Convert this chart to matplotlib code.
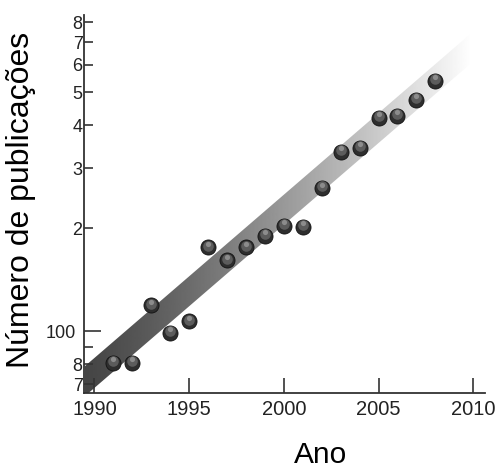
import numpy as np
import matplotlib
matplotlib.use("Agg")
import matplotlib.pyplot as plt
from matplotlib.transforms import offset_copy
from matplotlib.ticker import FixedLocator, FixedFormatter, NullLocator

plt.rcParams['font.family'] = ['Liberation Sans', 'DejaVu Sans']

# data
years = [1991, 1992, 1993, 1994, 1995, 1996, 1997, 1998, 1999,
         2000, 2001, 2002, 2003, 2004, 2005, 2006, 2007, 2008]
publications = [81, 81, 119, 99, 107, 176, 161, 176, 190,
                203, 202, 262, 335, 344, 420, 426, 474, 540]

# trend band (start/end of the grey strip)
trend_years = [1989.5, 2010.0]
trend_values = [71.5, 680]
band_factor = 1.106

x_ticks = [1990, 1995, 2000, 2005, 2010]
y_major = [100]
y_major_labels = ['100']
y_minor = [70, 80, 90, 200, 300, 400, 500, 600, 700, 800]
y_minor_labels = ['7', '8', '', '2', '3', '4', '5', '6', '7', '8']

fig = plt.figure(figsize=(4.97, 4.69), dpi=100)
ax = fig.add_axes([84 / 497, 76 / 469, 401 / 497, 378 / 469])

# band: polygon from the trend, filled by a grey gradient (dark -> white)
band = ax.fill_between(trend_years,
                       [v / band_factor for v in trend_values],
                       [v * band_factor for v in trend_values],
                       facecolor='none', edgecolor='none')
gx = np.linspace(0, 1, 500)
shade = np.clip(0.27 + 0.76 * gx ** 1.2, 0, 1)
im = ax.imshow(shade[np.newaxis, :], extent=[0, 1, 0, 1], transform=ax.transAxes,
               cmap='gray', vmin=0, vmax=1, aspect='auto', interpolation='bilinear', zorder=1)
im.set_clip_path(band.get_paths()[0], band.get_transform())

# sphere-looking markers: dark ball + lighter core + small highlight
ax.scatter(years, publications, s=118, c='#2e2e2e', edgecolors='#121212',
           linewidths=0.6, zorder=3)
ax.scatter(years, publications, s=58, c='#5c5c5c', linewidths=0, zorder=4,
           transform=offset_copy(ax.transData, fig=fig, x=0, y=1.2, units='points'))
ax.scatter(years, publications, s=14, c='#8c8c8c', linewidths=0, zorder=5,
           transform=offset_copy(ax.transData, fig=fig, x=0, y=2.6, units='points'))

ax.set_yscale('log')
ax.set_xlim(1989.45, 2010.62)
ax.set_ylim(66, 840)

for side in ['top', 'right']:
    ax.spines[side].set_visible(False)
for side in ['left', 'bottom']:
    ax.spines[side].set_linewidth(1.3)
    ax.spines[side].set_color('#333333')

ax.xaxis.set_major_locator(FixedLocator(x_ticks))
ax.xaxis.set_minor_locator(NullLocator())
ax.yaxis.set_major_locator(FixedLocator(y_major))
ax.yaxis.set_major_formatter(FixedFormatter(y_major_labels))
ax.yaxis.set_minor_locator(FixedLocator(y_minor))
ax.yaxis.set_minor_formatter(FixedFormatter(y_minor_labels))

ax.tick_params(axis='x', direction='in', length=11, width=1.2, labelsize=14.5,
               pad=5, color='#333333', labelcolor='#222222')
ax.tick_params(axis='y', which='major', direction='in', length=12, width=1.2,
               labelsize=13, pad=6, color='#333333', labelcolor='#222222')
ax.tick_params(axis='y', which='minor', direction='in', length=6.5, width=1.2,
               labelsize=13, pad=1, color='#333333', labelcolor='#222222')

ax.set_xlabel('Ano', fontsize=21.5, va='center')
ax.xaxis.set_label_coords(0.589, -0.165)
ax.set_ylabel('Número de publicações', fontsize=23, va='center')
ax.yaxis.set_label_coords(-0.157, 0.51)

fig.savefig('out.png', dpi=100)
